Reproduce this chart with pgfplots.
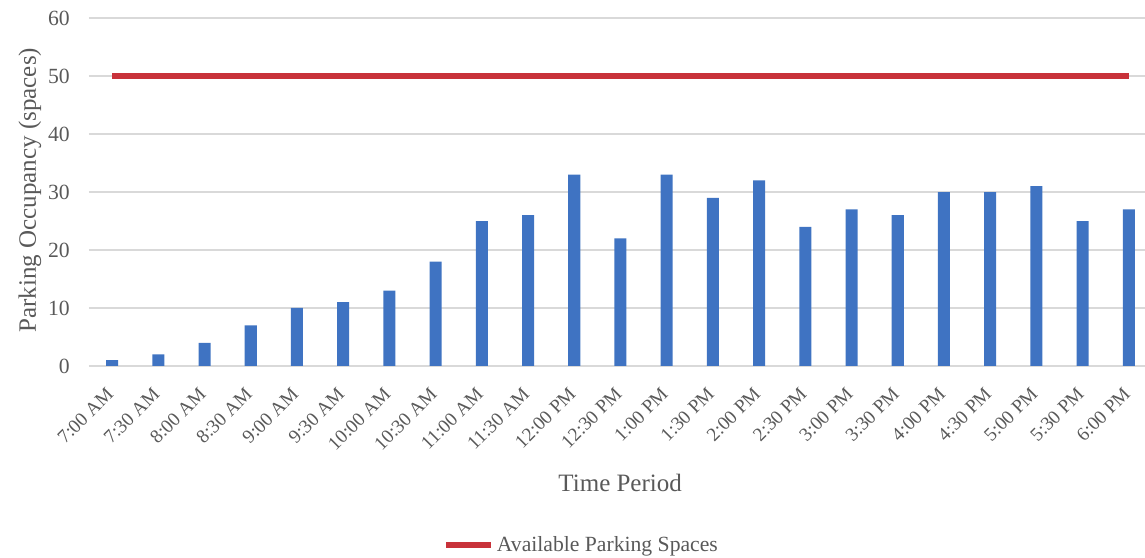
\documentclass[border=0pt]{standalone}
\usepackage{fontspec}
\setmainfont{Liberation Serif}
\usepackage{pgfplots}
\pgfplotsset{compat=1.18}
\definecolor{barblue}{HTML}{3F73C2}
\definecolor{linered}{HTML}{C8323A}
\definecolor{txtgray}{HTML}{595959}
\definecolor{gridgray}{HTML}{D9D9D9}
\begin{document}
\begin{tikzpicture}[x=0.6pt,y=0.6pt]
\useasboundingbox (-89,-192) rectangle (1056,366);
\begin{axis}[
  at={(0,0)}, anchor=south west,
  scale only axis,
  width=633.6pt, height=208.8pt,
  xmin=-0.5, xmax=22.35,
  ymin=0, ymax=60,
  ytick={0,10,...,60},
  xtick={0,...,22},
  xticklabels={7:00 AM,7:30 AM,8:00 AM,8:30 AM,9:00 AM,9:30 AM,10:00 AM,10:30 AM,11:00 AM,11:30 AM,12:00 PM,12:30 PM,1:00 PM,1:30 PM,2:00 PM,2:30 PM,3:00 PM,3:30 PM,4:00 PM,4:30 PM,5:00 PM,5:30 PM,6:00 PM},
  x tick label style={xshift=-4pt, yshift=-10.5pt, rotate=45, anchor=north east, font=\fontsize{11.5}{13}\selectfont, text=txtgray, inner sep=1pt},
  y tick label style={font=\fontsize{13}{15}\selectfont, text=txtgray, xshift=-8pt},
  /pgf/number format/assume math mode=true,
  major tick length=0pt,
  axis line style={draw=none},
  ymajorgrids, grid style={gridgray, line width=0.8pt},
  xlabel={Time Period},
  ylabel={Parking Occupancy (spaces)},
  xlabel style={at={(axis description cs:0.503,-0.336)}, anchor=center, font=\fontsize{15}{17}\selectfont, text=txtgray},
  ylabel style={at={(axis description cs:-0.056,0.505)}, anchor=center, font=\fontsize{15}{17}\selectfont, text=txtgray},
  legend style={at={(axis description cs:0.467,-0.514)}, anchor=center, draw=none, fill=none, font=\fontsize{13}{15}\selectfont, text=txtgray, legend cell align=left},
  legend image code/.code={\draw[#1, line width=3.3pt] (0pt,0pt) -- (27pt,0pt);},
  clip=false,
]
\addplot[ybar, bar width=0.26, fill=barblue, draw=none, forget plot] coordinates {
(0,1) (1,2) (2,4) (3,7) (4,10) (5,11) (6,13) (7,18) (8,25) (9,26) (10,33)
(11,22) (12,33) (13,29) (14,32) (15,24) (16,27) (17,26) (18,30) (19,30)
(20,31) (21,25) (22,27)};
\addplot[linered, line width=3.3pt, mark=none] coordinates {
(0,50) (1,50) (2,50) (3,50) (4,50) (5,50) (6,50) (7,50) (8,50) (9,50) (10,50)
(11,50) (12,50) (13,50) (14,50) (15,50) (16,50) (17,50) (18,50) (19,50)
(20,50) (21,50) (22,50)};
\addlegendentry{Available Parking Spaces}
\end{axis}
\end{tikzpicture}
\end{document}
